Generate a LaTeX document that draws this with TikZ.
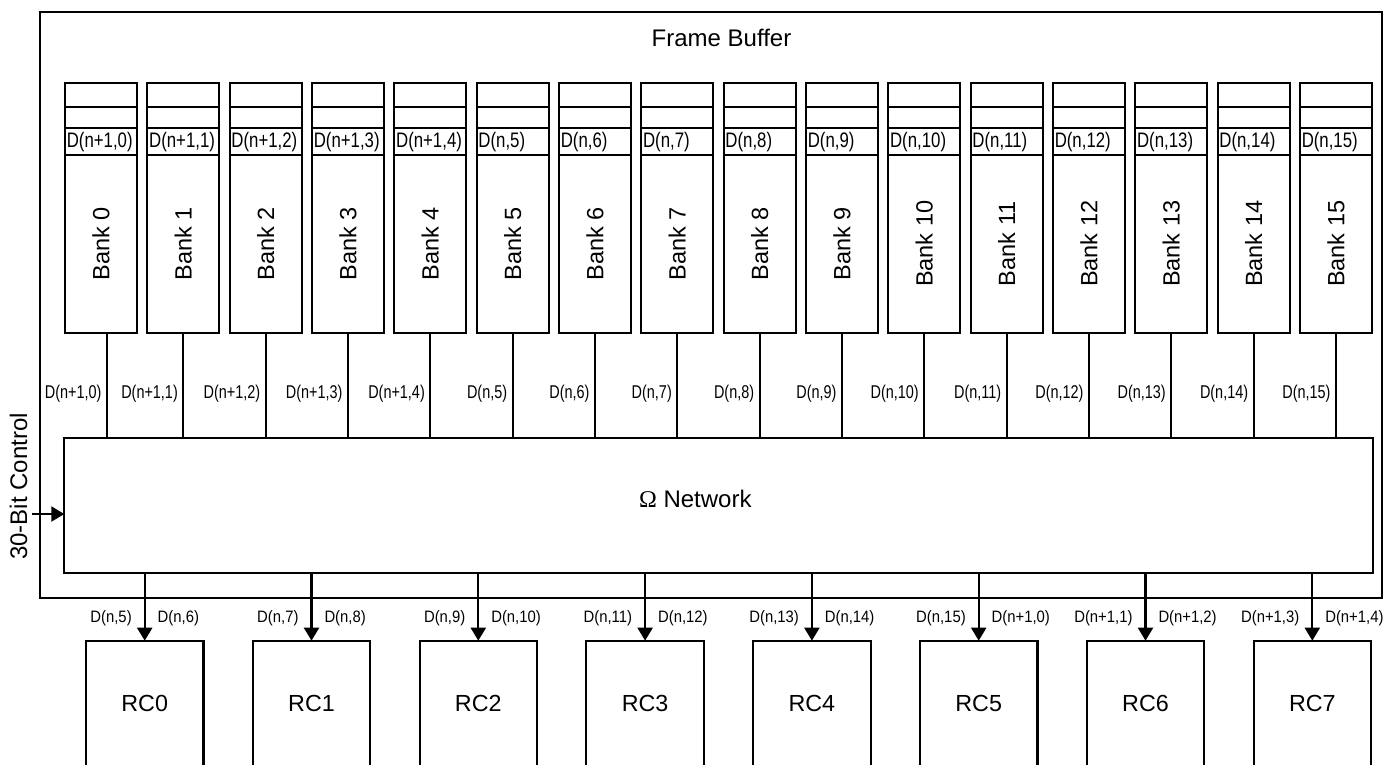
\documentclass[tikz,border=0pt]{standalone}
\usepackage{fontspec}
\setmainfont{Liberation Sans}
\newfontfamily\omfont{Liberation Serif}
\usetikzlibrary{arrows.meta}
\newcommand{\fsz}[1]{\fontsize{#1}{#1}\selectfont}
\tikzset{
  ln/.style={line width=2.1pt},
  box/.style={draw, line width=2.1pt, rectangle, inner sep=0pt, outer sep=0pt},
  txt/.style={inner sep=0pt, outer sep=0pt},
  arr/.style={line width=2.1pt, -{Triangle[length=13pt,width=15pt]}},
  celllab/.style={txt, anchor=base west, font=\fsz{21}},
  wirelab/.style={txt, font=\fsz{18.5}},
  outlab/.style={txt, font=\fsz{16.5}},
}
\begin{document}
\begin{tikzpicture}[x=1pt,y=-1pt]
\useasboundingbox (0,0) rectangle (1393,764);
\clip (0,0) rectangle (1393,764);
% helper rows
\coordinate (r1) at (0,106.7);
\coordinate (r2) at (0,127.7);
\coordinate (r3) at (0,155);
\coordinate (cb) at (0,147.5);
\coordinate (wl) at (0,398.5);
% frame buffer
\node[box, minimum width=1342pt, minimum height=586pt] (fb) at (711,305) {};
\node[txt, anchor=base west, font=\fsz{24}] (fbl) at (651.7,46.7) {Frame Buffer};
% network
\node[box, minimum width=1308.4pt, minimum height=135pt] (net) at (718.5,505.8) {};
\node[txt, anchor=base west, font=\fsz{24}] (netl) at (639,507.3) {{\omfont Ω} Network};
% banks
\foreach \k/\lab in {0/{D(n+1,0)},1/{D(n+1,1)},2/{D(n+1,2)},3/{D(n+1,3)},4/{D(n+1,4)},
  5/{D(n,5)},6/{D(n,6)},7/{D(n,7)},8/{D(n,8)},9/{D(n,9)},10/{D(n,10)},11/{D(n,11)},
  12/{D(n,12)},13/{D(n,13)},14/{D(n,14)},15/{D(n,15)}} {
  \pgfmathsetmacro\cx{101+82.33*\k}
  \pgfmathsetmacro\dx{\k==0 ? 6 : 0}
  \node[box, minimum width=72pt, minimum height=249.4pt] (b\k) at (\cx,208) {};
  \draw[ln] (b\k.west |- r1) -- (b\k.east |- r1);
  \draw[ln] (b\k.west |- r2) -- (b\k.east |- r2);
  \draw[ln] (b\k.west |- r3) -- (b\k.east |- r3);
  \node[celllab, xshift=1.8pt] (c\k) at (b\k.west |- cb) {\scalebox{0.8}[1]{\lab}};
  \node[txt, rotate=90, font=\fsz{23.5}] (bl\k) at (\cx,243.8) {Bank \k};
  \coordinate (w\k) at ([xshift=\dx pt]b\k.south);
  \draw[ln] (w\k) -- (w\k |- net.north);
  \node[wirelab, anchor=base east, xshift=-5.5pt] (wl\k) at (w\k |- wl) {\scalebox{0.78}[1]{\lab}};
}
% reconfigurable cells
\foreach \k/\la/\lb in {0/{D(n,5)}/{D(n,6)},1/{D(n,7)}/{D(n,8)},2/{D(n,9)}/{D(n,10)},
  3/{D(n,11)}/{D(n,12)},4/{D(n,13)}/{D(n,14)},5/{D(n,15)}/{D(n+1,0)},
  6/{D(n+1,1)}/{D(n+1,2)},7/{D(n+1,3)}/{D(n+1,4)}} {
  \pgfmathsetmacro\rx{144.7+166.8*\k}
  \node[box, minimum width=117.5pt, minimum height=200pt, anchor=north] (rc\k) at (\rx,640.7) {};
  \node[txt, anchor=base, font=\fsz{23.3}] (rcl\k) at (\rx,711.7) {RC\k};
  \draw[arr] (rc\k.north |- net.south) -- (rc\k.north);
  \node[outlab, anchor=base east] (oa\k) at (\rx-13,622.7) {\scalebox{0.9}[1]{\la}};
  \node[outlab, anchor=base west] (ob\k) at (\rx+13,622.7) {\scalebox{0.9}[1]{\lb}};
}
% control input
\node[txt, rotate=90, font=\fsz{24}] (ctl) at (18.5,486.5) {30-Bit Control};
\coordinate (cs) at (32,514);
\draw[arr] (cs) -- (cs -| net.west);
\end{tikzpicture}
\end{document}
